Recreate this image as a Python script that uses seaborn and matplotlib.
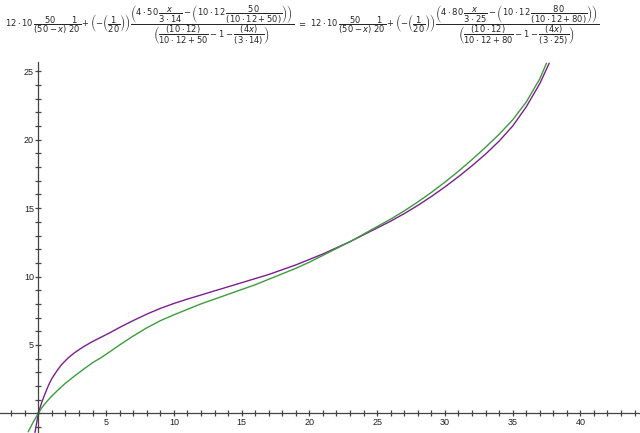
import numpy as np
import pandas as pd
import matplotlib
matplotlib.use("Agg")
import matplotlib.pyplot as plt
import seaborn as sns

# values (x, y) for both curves
purple_x = [-0.25, 0.0, 0.25, 0.5, 0.75, 1.0, 1.4, 1.75, 2.2, 2.7, 3.3, 4.0, 4.6, 5.2, 6.0,
            7.0, 8.0, 9.0, 10.0, 11.0, 12.0, 13.0, 14.0, 15.0, 16.0, 17.0, 18.0, 19.0, 20.0,
            21.0, 22.0, 23.0, 24.0, 25.0, 26.0, 27.0, 28.0, 29.0, 30.0, 31.0, 32.0, 33.0,
            34.0, 35.0, 36.0, 37.0, 37.7]
purple_y = [-1.4, 0.0, 0.8, 1.45, 2.05, 2.55, 3.15, 3.6, 4.05, 4.45, 4.85, 5.25, 5.55, 5.85, 6.28,
            6.78, 7.25, 7.67, 8.03, 8.35, 8.65, 8.95, 9.25, 9.55, 9.85, 10.15, 10.5, 10.85, 11.25,
            11.65, 12.1, 12.55, 13.05, 13.55, 14.05, 14.6, 15.2, 15.85, 16.55, 17.3, 18.1, 18.95,
            19.9, 21.0, 22.4, 24.1, 25.6]

green_x = [-0.75, -0.4, 0.0, 0.25, 0.5, 0.75, 1.0, 1.5, 2.0, 2.7, 3.3, 4.0, 4.6, 5.2, 6.0,
           7.0, 8.0, 9.0, 10.0, 11.0, 12.0, 13.0, 14.0, 15.0, 16.0, 17.0, 18.0, 19.0, 20.0,
           21.0, 22.0, 23.0, 24.0, 25.0, 26.0, 27.0, 28.0, 29.0, 30.0, 31.0, 32.0, 33.0,
           34.0, 35.0, 36.0, 37.0, 37.5]
green_y = [-1.35, -0.68, 0.0, 0.4, 0.72, 1.0, 1.27, 1.75, 2.2, 2.75, 3.2, 3.7, 4.05, 4.45, 5.0,
           5.65, 6.25, 6.77, 7.2, 7.6, 8.0, 8.35, 8.7, 9.05, 9.4, 9.8, 10.2, 10.6, 11.05,
           11.55, 12.05, 12.55, 13.1, 13.65, 14.2, 14.8, 15.45, 16.15, 16.9, 17.7, 18.55, 19.45,
           20.4, 21.45, 22.75, 24.45, 25.6]

x_labels = [5, 10, 15, 20, 25, 30, 35, 40]
y_labels = [5, 10, 15, 20, 25]

df = pd.concat([
    pd.DataFrame({'x': purple_x, 'y': purple_y, 'curve': 'a=50'}),
    pd.DataFrame({'x': green_x, 'y': green_y, 'curve': 'a=80'}),
], ignore_index=True)

sns.set_style("white")
plt.rcParams['font.family'] = ['Liberation Sans', 'DejaVu Sans']
plt.rcParams['mathtext.fontset'] = 'dejavusans'

fig = plt.figure(figsize=(6.4, 4.33), dpi=100)
ax = fig.add_axes([0, 0, 1, 0.873])

sns.lineplot(data=df, x='x', y='y', hue='curve', palette=['#7b1f8e', '#3c9c3c'],
             estimator=None, sort=False, linewidth=1.0, legend=False, ax=ax)

ax.set_xlim(-2.83, 44.4)
ax.set_ylim(-1.44, 26.2)

for s in ['top', 'right']:
    ax.spines[s].set_visible(False)
ax.spines['left'].set_position(('data', 0))
ax.spines['bottom'].set_position(('data', 0))
ax.spines['left'].set_bounds(-1.44, 25.7)
for s in ['left', 'bottom']:
    ax.spines[s].set_color('#444444')
    ax.spines[s].set_linewidth(0.9)

ax.set_xticks(x_labels)
ax.set_yticks(y_labels)
ax.set_xticks(np.arange(-2, 45, 1), minor=True)
ax.set_yticks(np.arange(-1, 26, 1), minor=True)
ax.tick_params(which='both', bottom=True, left=True, direction='inout', length=4.5,
               width=0.9, color='#444444', labelsize=6.5, labelcolor='#222222')
ax.tick_params(axis='x', pad=1)
ax.tick_params(axis='y', pad=1)
ax.set_xlabel('')
ax.set_ylabel('')

lhs = (r"$12\cdot10\,\dfrac{50}{(50-x)}\,\dfrac{1}{20}+\left(-\left(\dfrac{1}{20}\right)\right)"
       r"\dfrac{\left(4\cdot50\,\dfrac{x}{3\cdot14}-\left(10\cdot12\,\dfrac{50}{(10\cdot12+50)}\right)\right)}"
       r"{\left(\dfrac{(10\cdot12)}{10\cdot12+50}-1-\dfrac{(4x)}{(3\cdot14)}\right)}$")
rhs = (r"$12\cdot10\,\dfrac{50}{(50-x)}\,\dfrac{1}{20}+\left(-\left(\dfrac{1}{20}\right)\right)"
       r"\dfrac{\left(4\cdot80\,\dfrac{x}{3\cdot25}-\left(10\cdot12\,\dfrac{80}{(10\cdot12+80)}\right)\right)}"
       r"{\left(\dfrac{(10\cdot12)}{10\cdot12+80}-1-\dfrac{(4x)}{(3\cdot25)}\right)}$")
fig.text(0.008, 0.942, lhs, fontsize=6.0, ha='left', va='center')
fig.text(0.472, 0.942, r"$=$", fontsize=6.0, ha='center', va='center')
fig.text(0.485, 0.942, rhs, fontsize=6.0, ha='left', va='center')

fig.savefig('out.png', dpi=100)
